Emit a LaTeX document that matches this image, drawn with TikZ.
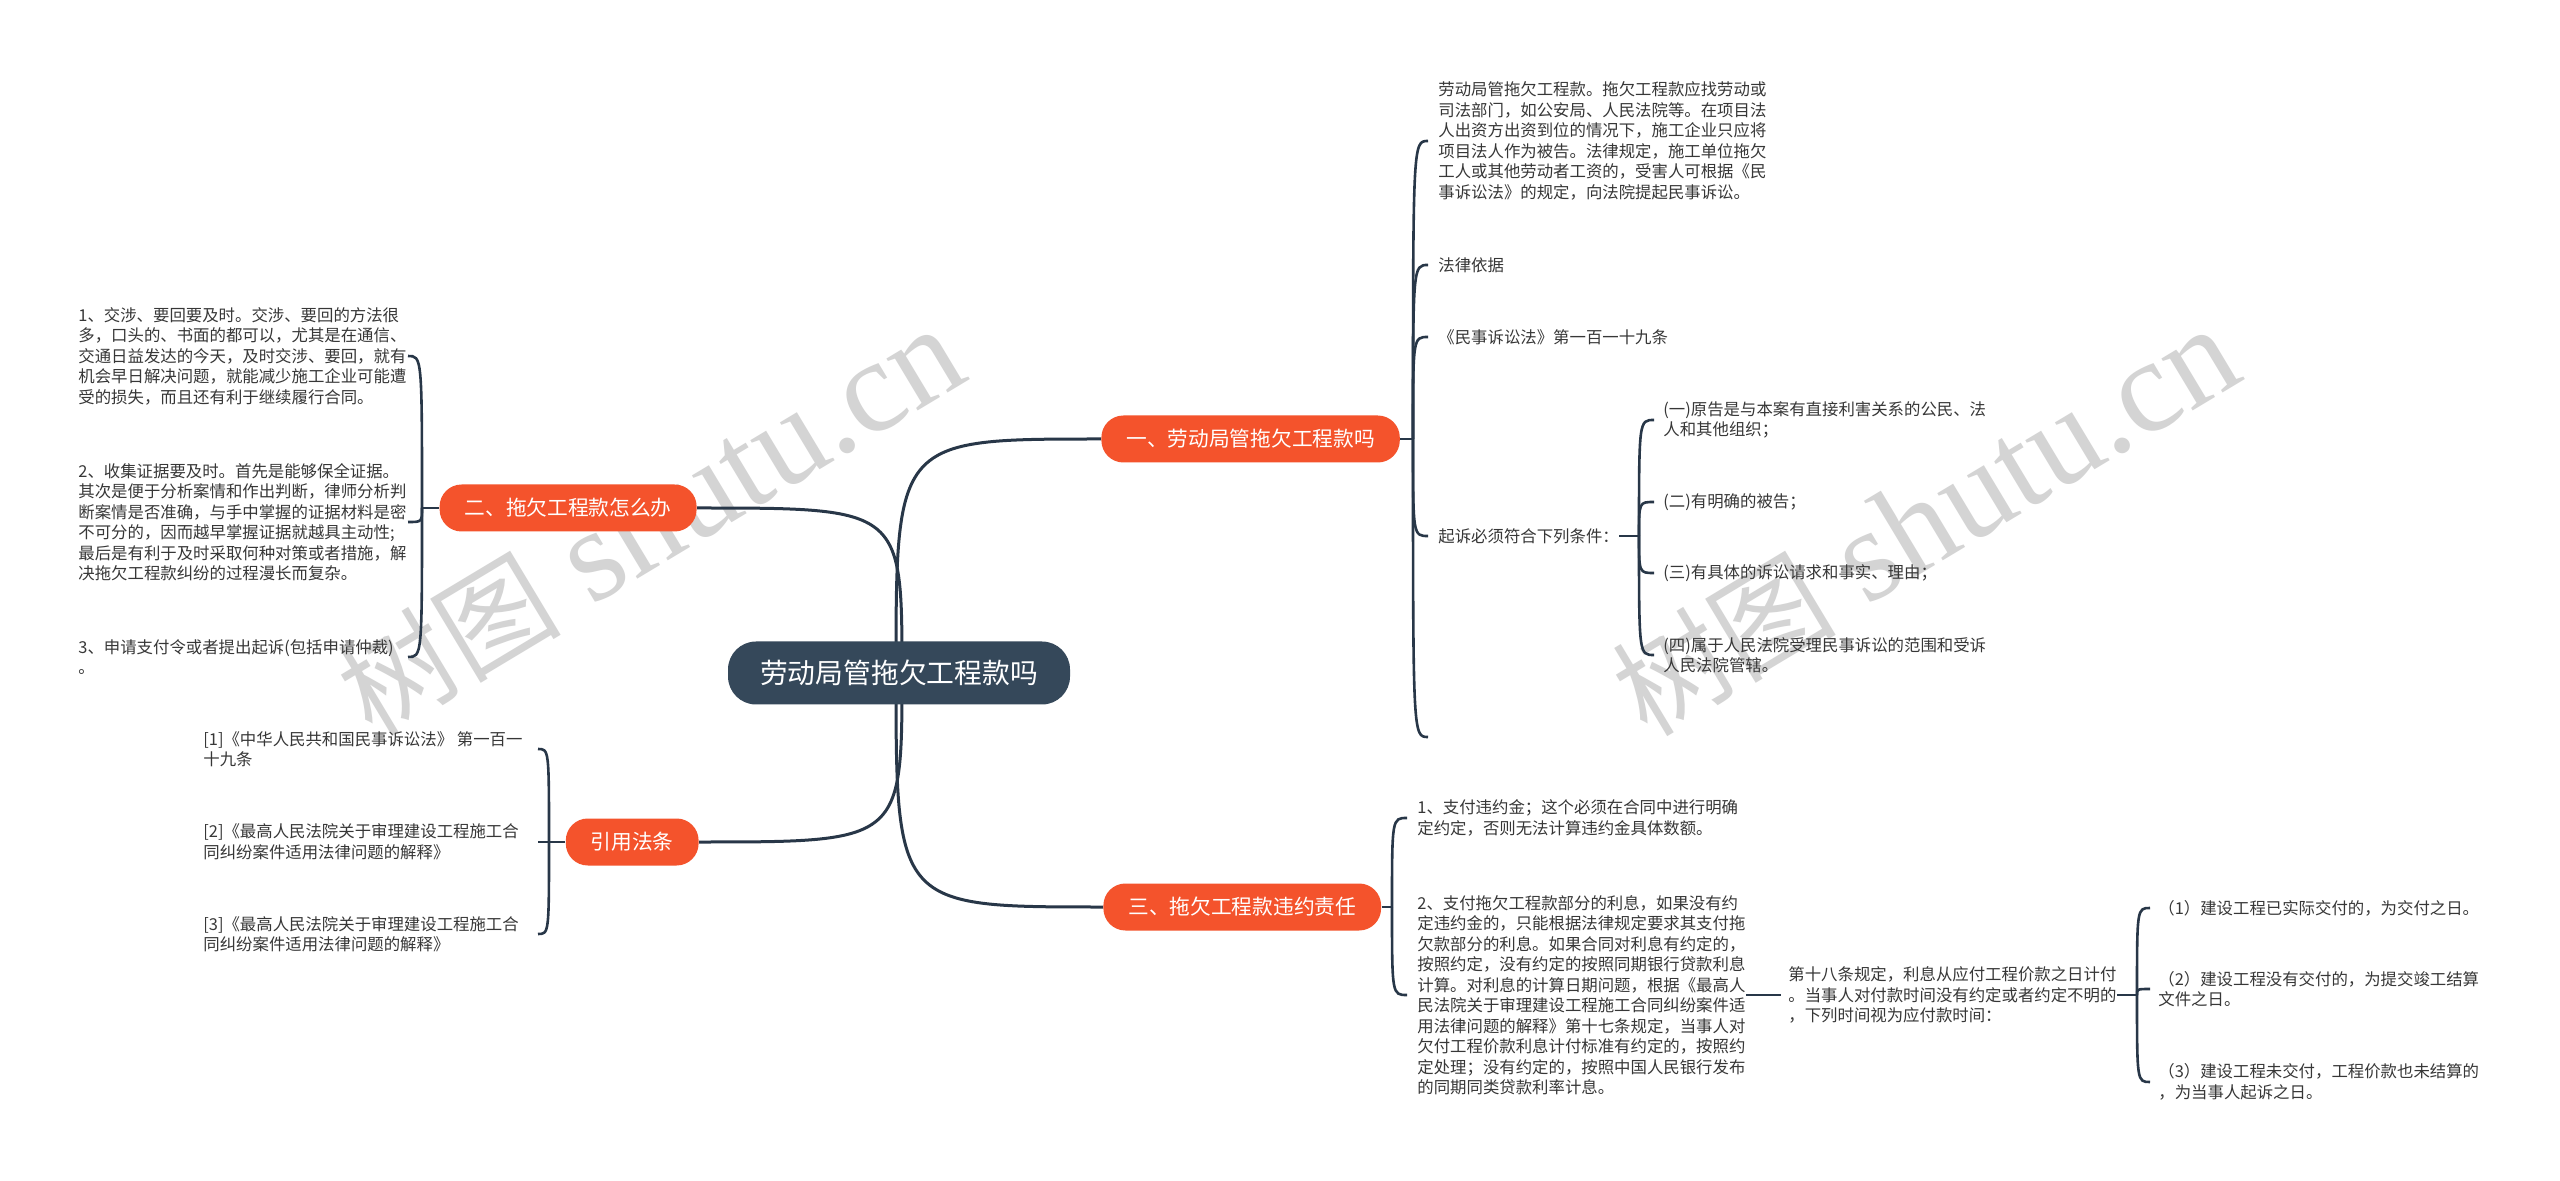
\documentclass[tikz,border=0pt]{standalone}
\usepackage{fontspec}
\setmainfont{Noto Sans CJK SC}
\newfontfamily\wmlatin{Liberation Serif}
\pgfdeclarelayer{wmlayer}
\pgfdeclarelayer{bglayer}
\pgfsetlayers{wmlayer,bglayer,main}
\definecolor{orangeN}{RGB}{244,83,44}
\definecolor{rootC}{RGB}{53,72,90}
\definecolor{lineC}{RGB}{40,55,72}
\definecolor{txtC}{RGB}{55,55,55}
\definecolor{wmC}{RGB}{212,212,212}
\newcommand{\wmtext}{{\fontsize{56}{56}\selectfont 树图}\hspace{16pt}{\wmlatin\fontsize{66}{66}\selectfont shutu.cn}}
\begin{document}
\begin{tikzpicture}[x=0.5pt,y=-0.5pt,
  rootnode/.style={fill=rootC, text=white, rounded corners=14pt, minimum height=31.5pt, inner xsep=16pt, inner ysep=0pt, font=\fontsize{13.9}{16}\selectfont},
  branch/.style={fill=orangeN, text=white, rounded corners=11pt, minimum height=23.5pt, inner xsep=12.5pt, inner ysep=0pt, font=\fontsize{10.35}{12}\selectfont},
  leaf/.style={text=txtC, align=left, inner sep=0pt, font=\fontsize{8.2}{10.25}\selectfont},
  conn/.style={draw=lineC, line width=1.3pt},
  mainconn/.style={draw=lineC, line width=1.5pt},
  wm/.style={text=wmC, inner sep=0pt}
]
\useasboundingbox (0,0) rectangle (2560,1181);
\begin{pgfonlayer}{wmlayer}
\fill[white] (0,0) rectangle (2560,1181);
\node[wm, rotate=31] (wm1) at (650,522) {\wmtext};
\node[wm, rotate=31] (wm2) at (1925,522) {\wmtext};
\end{pgfonlayer}

% main nodes
\node[rootnode] (root) at (899,673) {劳动局管拖欠工程款吗};
\node[branch, anchor=west] (b1) at (1101,439) {一、劳动局管拖欠工程款吗};
\node[branch, anchor=east] (b2) at (697,508) {二、拖欠工程款怎么办};
\node[branch, anchor=east] (b3) at (699,842) {引用法条};
\node[branch, anchor=west] (b4) at (1103,907) {三、拖欠工程款违约责任};
\coordinate (rR) at (896,673);
\coordinate (rL) at (902,673);

% group one
\coordinate (p1) at (1413,439);
\coordinate (h1) at (1428,0);
\node[leaf, anchor=west] (t1) at (1438,141) {劳动局管拖欠工程款。拖欠工程款应找劳动或\\司法部门，如公安局、人民法院等。在项目法\\人出资方出资到位的情况下，施工企业只应将\\项目法人作为被告。法律规定，施工单位拖欠\\工人或其他劳动者工资的，受害人可根据《民\\事诉讼法》的规定，向法院提起民事诉讼。};
\node[leaf, anchor=west] (t2) at (1438,265) {法律依据};
\node[leaf, anchor=west] (t3) at (1438,337) {《民事诉讼法》第一百一十九条};
\node[leaf, anchor=west] (t4) at (1438,536) {起诉必须符合下列条件：};
\coordinate (t5) at (1428,737);

% conditions
\coordinate (p2) at (1639,536);
\coordinate (h2) at (1654,0);
\node[leaf, anchor=west] (s1) at (1663,420) {(一)原告是与本案有直接利害关系的公民、法\\人和其他组织；};
\node[leaf, anchor=west] (s2) at (1663,502) {(二)有明确的被告；};
\node[leaf, anchor=west] (s3) at (1663,573) {(三)有具体的诉讼请求和事实、理由；};
\node[leaf, anchor=west] (s4) at (1663,655) {(四)属于人民法院受理民事诉讼的范围和受诉\\人民法院管辖。};

% group three
\coordinate (p3) at (1392,907);
\coordinate (h3) at (1407,0);
\node[leaf, anchor=west] (c1) at (1417,818) {1、支付违约金；这个必须在合同中进行明确\\定约定，否则无法计算违约金具体数额。};
\node[leaf, anchor=west] (c2) at (1417,995) {2、支付拖欠工程款部分的利息，如果没有约\\定违约金的，只能根据法律规定要求其支付拖\\欠款部分的利息。如果合同对利息有约定的，\\按照约定，没有约定的按照同期银行贷款利息\\计算。对利息的计算日期问题，根据《最高人\\民法院关于审理建设工程施工合同纠纷案件适\\用法律问题的解释》第十七条规定，当事人对\\欠付工程价款利息计付标准有约定的，按照约\\定处理；没有约定的，按照中国人民银行发布\\的同期同类贷款利率计息。};
\node[leaf, anchor=west] (d) at (1788,995) {第十八条规定，利息从应付工程价款之日计付\\。当事人对付款时间没有约定或者约定不明的\\，下列时间视为应付款时间：};
\coordinate (p4) at (2137,995);
\coordinate (h4) at (2150,0);
\node[leaf, anchor=west] (e1) at (2158,908) {（1）建设工程已实际交付的，为交付之日。};
\node[leaf, anchor=west] (e2) at (2158,989) {（2）建设工程没有交付的，为提交竣工结算\\文件之日。};
\node[leaf, anchor=west] (e3) at (2158,1082) {（3）建设工程未交付，工程价款也未结算的\\，为当事人起诉之日。};

% group two
\coordinate (p5) at (422,508);
\coordinate (h5) at (408,0);
\node[leaf, anchor=west] (l1) at (78,356) {1、交涉、要回要及时。交涉、要回的方法很\\多，口头的、书面的都可以，尤其是在通信、\\交通日益发达的今天，及时交涉、要回，就有\\机会早日解决问题，就能减少施工企业可能遭\\受的损失，而且还有利于继续履行合同。};
\node[leaf, anchor=west] (l2) at (78,522) {2、收集证据要及时。首先是能够保全证据。\\其次是便于分析案情和作出判断，律师分析判\\断案情是否准确，与手中掌握的证据材料是密\\不可分的，因而越早掌握证据就越具主动性;\\最后是有利于及时采取何种对策或者措施，解\\决拖欠工程款纠纷的过程漫长而复杂。};
\node[leaf, anchor=west] (l3) at (78,657) {3、申请支付令或者提出起诉(包括申请仲裁)\\。};

% references
\coordinate (p6) at (549,842);
\coordinate (h6) at (538,0);
\node[leaf, anchor=west] (r1) at (203,749) {[1]《中华人民共和国民事诉讼法》 第一百一\\十九条};
\node[leaf, anchor=west] (r2) at (203,842) {[2]《最高人民法院关于审理建设工程施工合\\同纠纷案件适用法律问题的解释》};
\node[leaf, anchor=west] (r3) at (203,934) {[3]《最高人民法院关于审理建设工程施工合\\同纠纷案件适用法律问题的解释》};

\begin{pgfonlayer}{bglayer}
\draw[mainconn] (rR) .. controls (rR |- b1.west) .. (b1.west);
\draw[mainconn] (rL) .. controls (rL |- b2.east) .. (b2.east);
\draw[mainconn] (rL) .. controls (rL |- b3.east) .. (b3.east);
\draw[mainconn] (rR) .. controls (rR |- b4.west) .. (b4.west);

\draw[conn] (b1.east) -- (p1);
\foreach \c in {t1,t2,t3,t4} \draw[conn] (p1) .. controls (p1 |- \c.west) .. (h1 |- \c.west);
\draw[conn] (p1) .. controls (p1 |- t5) .. (t5);

\draw[conn] (t4.east) -- (p2);
\foreach \c in {s1,s2,s3,s4} \draw[conn] (p2) .. controls (p2 |- \c.west) .. (h2 |- \c.west);

\draw[conn] (b4.east) -- (p3);
\foreach \c in {c1,c2} \draw[conn] (p3) .. controls (p3 |- \c.west) .. (h3 |- \c.west);
\draw[conn] (c2.east) -- ([xshift=-3.5pt]d.west);
\draw[conn] (d.east) -- (p4);
\foreach \c in {e1,e2,e3} \draw[conn] (p4) .. controls (p4 |- \c.west) .. (h4 |- \c.west);

\draw[conn] (b2.west) -- (p5);
\foreach \c in {l1,l2,l3} \draw[conn] (p5) .. controls (p5 |- \c.east) .. (h5 |- \c.east);

\draw[conn] (b3.west) -- (p6);
\foreach \c in {r1,r2,r3} \draw[conn] (p6) .. controls (p6 |- \c.east) .. (h6 |- \c.east);
\end{pgfonlayer}
\end{tikzpicture}
\end{document}
